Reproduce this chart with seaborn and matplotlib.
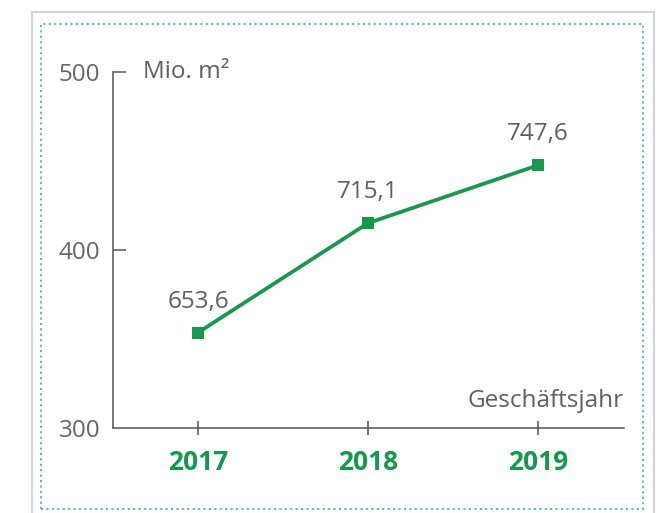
import matplotlib
matplotlib.use("Agg")
import matplotlib.pyplot as plt
import seaborn as sns
import pandas as pd
from matplotlib.patches import Rectangle

years = [2017, 2018, 2019]
area = [653.6, 715.1, 747.6]
value_labels = ["653,6", "715,1", "747,6"]
y_ticks = [600, 700, 800]
y_tick_labels = ["300", "400", "500"]

green = "#139b4b"
grey = "#5f5f5f"

sns.set_style("white")
plt.rcParams["font.family"] = ["Open Sans", "DejaVu Sans"]

df = pd.DataFrame({"year": years, "area": area})

fig = plt.figure(figsize=(6.68, 5.13), dpi=100)
fig.patch.set_facecolor("white")

# panel frame + dotted inner border (figure pixel coords)
W, H = 668, 513
fig.patches.append(Rectangle((32 / W, -0.02), (654 - 32) / W, (H - 12) / H + 0.02,
                             transform=fig.transFigure, facecolor="white",
                             edgecolor="#d4d4d4", lw=1.5, zorder=-2))
fig.patches.append(Rectangle((41 / W, (H - 509) / H), (643 - 41) / W, (509 - 24) / H,
                             transform=fig.transFigure, facecolor="none",
                             edgecolor="#5fbf9a", lw=1.5, ls=(0, (1, 1.6)), zorder=-1))

ax = fig.add_axes([113 / W, (H - 428) / H, (624 - 113) / W, (428 - 72) / H])
ax.set_facecolor("none")

sns.lineplot(data=df, x="year", y="area", ax=ax, color=green, lw=2.7,
             marker="s", markersize=8, markeredgewidth=0, clip_on=False)

for x, y, lab in zip(years, area, value_labels):
    ax.annotate(lab, (x, y), xytext=(0, 18), textcoords="offset points",
                ha="center", va="baseline", fontsize=17.5, color=grey)

ax.set_xlim(2016.5, 2019.506)
ax.set_ylim(600, 800)
ax.set_xticks(years)
ax.set_xticklabels([str(y) for y in years], fontsize=19, fontweight="bold", color=green)
ax.set_yticks(y_ticks)
ax.set_yticklabels(y_tick_labels, fontsize=17.5, color="#666666")

for s in ["top", "right"]:
    ax.spines[s].set_visible(False)
for s in ["left", "bottom"]:
    ax.spines[s].set_color("#555555")
    ax.spines[s].set_linewidth(1.1)

ax.tick_params(axis="y", left=True, direction="in", length=9, width=1.1,
               color="#555555", pad=9)
ax.tick_params(axis="x", bottom=True, direction="inout", length=10, width=1.1,
               color="#555555", pad=10)
ax.yaxis.get_major_ticks()[0].tick1line.set_visible(False)

ax.set_xlabel("")
ax.set_ylabel("")
ax.text(30 / 511, 1.0, "Mio. m²", transform=ax.transAxes, ha="left", va="center",
        fontsize=17.5, color=grey)
ax.text(1.0, 0.076, "Geschäftsjahr", transform=ax.transAxes, ha="right", va="center",
        fontsize=17.5, color=grey)

fig.savefig("out.png", dpi=100)
